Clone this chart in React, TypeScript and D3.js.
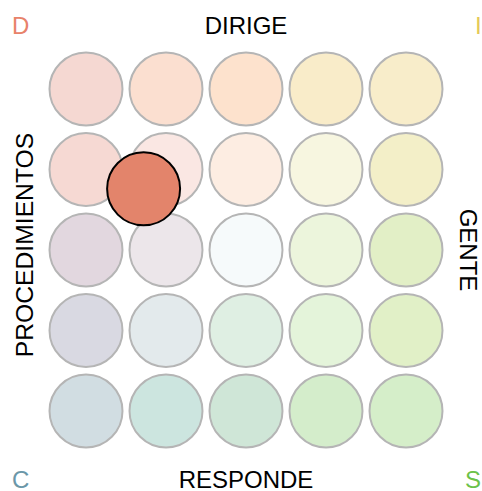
import React, { useEffect, useRef } from "react";
import * as d3 from "d3";

// grid fill colours, row by row (top = DIRIGE, bottom = RESPONDE)
const rowColors: string[][] = [
  ["#f5d8d2", "#fbdfd0", "#fde2cd", "#f9ecc9", "#f8edca"],
  ["#f6d9d3", "#fae7e3", "#fdede2", "#f7f6e0", "#f3efc8"],
  ["#e2d7df", "#ece6ea", "#f6fafb", "#ecf5dc", "#e2efc6"],
  ["#d9d9e2", "#e3eaec", "#dfefe3", "#e4f4da", "#e1f0c7"],
  ["#d1dde2", "#cce5df", "#cfe6d7", "#d4edcb", "#d5eec9"],
];

const columns = [0, 1, 2, 3, 4];
const rows = [0, 1, 2, 3, 4];

// the plotted person, in grid units
const point = { col: 0.72, row: 1.24, color: "#e3846b" };

const sideLabels = ["DIRIGE", "RESPONDE", "PROCEDIMIENTOS", "GENTE"];
const cornerLabels = ["D", "I", "C", "S"];
const cornerColors = ["#e8826a", "#e5c95a", "#6b97a8", "#6cc24a"];

const Grid = () => {
  const ref = useRef<any>(null);
  var width = 482;
  var height = 491;

  var x = d3.scaleLinear().domain([0, 4]).range([86, 406]);
  var y = d3.scaleLinear().domain([0, 4]).range([89, 411]);

  useEffect(() => {
    var svg = d3.select(ref.current);
    svg.selectAll("*").remove();

    var cells: any[] = [];
    rows.forEach((r) => columns.forEach((c) => cells.push({ r, c, fill: rowColors[r][c] })));

    svg
      .selectAll(".cell")
      .data(cells)
      .enter()
      .append("circle")
      .attr("cx", (d) => x(d.c))
      .attr("cy", (d) => y(d.r))
      .attr("r", 36.5)
      .style("fill", (d) => d.fill)
      .style("stroke", "#b5b5b5")
      .style("stroke-width", 2);

    svg
      .append("circle")
      .attr("cx", x(point.col))
      .attr("cy", y(point.row))
      .attr("r", 36.5)
      .style("fill", point.color)
      .style("stroke", "#000")
      .style("stroke-width", 2);

    var font = "'Liberation Sans', Arial, sans-serif";

    // top / bottom labels
    svg
      .append("text")
      .attr("x", 246)
      .attr("y", 34)
      .attr("text-anchor", "middle")
      .style("font-family", font)
      .style("font-size", "24px")
      .text(sideLabels[0]);
    svg
      .append("text")
      .attr("x", 246)
      .attr("y", 488)
      .attr("text-anchor", "middle")
      .style("font-family", font)
      .style("font-size", "24px")
      .text(sideLabels[1]);

    // vertical labels
    svg
      .append("text")
      .attr("transform", "translate(33,245) rotate(-90)")
      .attr("text-anchor", "middle")
      .style("font-family", font)
      .style("font-size", "24.7px")
      .text(sideLabels[2]);
    svg
      .append("text")
      .attr("transform", "translate(460,250) rotate(90)")
      .attr("text-anchor", "middle")
      .style("font-family", font)
      .style("font-size", "24px")
      .text(sideLabels[3]);

    // corners
    var corners = [
      [12, 34],
      [475, 34],
      [12, 488],
      [465, 488],
    ];
    svg
      .selectAll(".corner")
      .data(cornerLabels)
      .enter()
      .append("text")
      .attr("x", (d, i) => corners[i][0])
      .attr("y", (d, i) => corners[i][1])
      .style("font-family", font)
      .style("font-size", "24px")
      .style("fill", (d, i) => cornerColors[i])
      .text((d) => d);
  }, []);

  return (
    <svg
      ref={ref}
      width={width}
      height={height}
      style={{ position: "absolute", left: 0, top: 0, background: "#fff" }}
    ></svg>
  );
};

export default function App() {
  return <Grid />;
}
